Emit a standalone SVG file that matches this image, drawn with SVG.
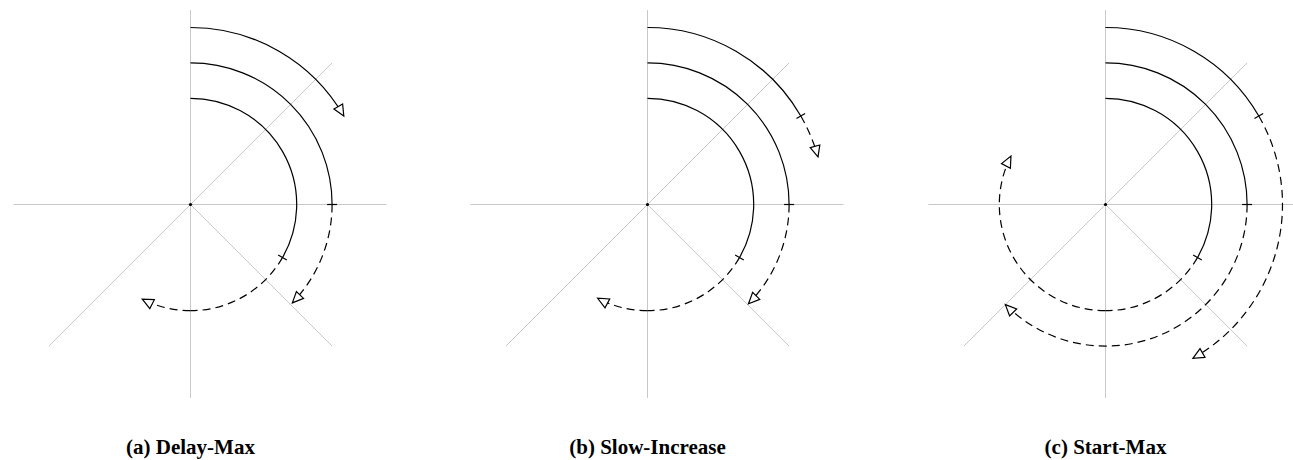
<svg xmlns="http://www.w3.org/2000/svg" width="1293" height="460" viewBox="0 0 1293 460">
  <style>
    .axis { stroke: #c8c8c8; stroke-width: 1; fill: none; }
    .arc { stroke: #000; stroke-width: 1.2; fill: none; }
    .dash { stroke-dasharray: 8 5; }
    .tick { stroke: #000; stroke-width: 1.2; }
    .cap { font-family: "Liberation Serif", "DejaVu Serif", serif; font-weight: bold; font-size: 21px; fill: #000; text-anchor: middle; }
  </style>
  <defs>
    <marker id="open" markerUnits="userSpaceOnUse" markerWidth="14" markerHeight="12" refX="0" refY="0" orient="auto" overflow="visible">
      <path d="M-11,-5 L0,0 L-11,5 Z" fill="#fff" stroke="#000" stroke-width="1.2" stroke-linejoin="miter"/>
    </marker>
    <g id="axes">
      <line class="axis" x1="0" y1="-194.5" x2="0" y2="193.5"/>
      <line class="axis" x1="-177" y1="0" x2="196" y2="0"/>
      <line class="axis" x1="-141.6" y1="141.6" x2="141.6" y2="-141.6"/>
      <line class="axis" x1="0" y1="0" x2="141.6" y2="141.6"/>
    </g>
  </defs>

  <g id="panel-a" transform="translate(190.5,204.5)">
    <use href="#axes"/>
    <g id="connectors-a">
      <path class="arc" d="M0,-106.2 A106.2,106.2 0 0 1 91.97,53.1"/>
      <path class="arc dash" d="M91.97,53.1 A106.2,106.2 0 0 1 0,106.2"/>
      <path class="arc dash" d="M0,106.2 A106.2,106.2 0 0 1 -48.21,94.62" marker-end="url(#open)"/>
      <line class="tick" x1="87.64" y1="50.6" x2="96.3" y2="55.6"/>
      <path class="arc" d="M0,-141.6 A141.6,141.6 0 0 1 141.6,0"/>
      <path class="arc dash" d="M141.6,0 A141.6,141.6 0 0 1 101.86,98.37" marker-end="url(#open)"/>
      <line class="tick" x1="136.6" y1="0" x2="146.6" y2="0"/>
      <path class="arc" d="M0,-177 A177,177 0 0 1 153.29,-88.5" marker-end="url(#open)"/>
    </g>
    <circle cx="0" cy="0" r="1.6" fill="#000"/>
    <text class="cap" x="0" y="249.5">(a) Delay-Max</text>
  </g>

  <g id="panel-b" transform="translate(647.5,204.5)">
    <use href="#axes"/>
    <g id="connectors-b">
      <path class="arc" d="M0,-106.2 A106.2,106.2 0 0 1 91.97,53.1"/>
      <path class="arc dash" d="M91.97,53.1 A106.2,106.2 0 0 1 0,106.2"/>
      <path class="arc dash" d="M0,106.2 A106.2,106.2 0 0 1 -49.86,93.77" marker-end="url(#open)"/>
      <line class="tick" x1="87.64" y1="50.6" x2="96.3" y2="55.6"/>
      <path class="arc" d="M0,-141.6 A141.6,141.6 0 0 1 141.6,0"/>
      <path class="arc dash" d="M141.6,0 A141.6,141.6 0 0 1 101,99.25" marker-end="url(#open)"/>
      <line class="tick" x1="136.6" y1="0" x2="146.6" y2="0"/>
      <path class="arc" d="M0,-177 A177,177 0 0 1 153.29,-88.5"/>
      <line class="tick" x1="148.96" y1="-86" x2="157.62" y2="-91"/>
      <path class="arc dash" d="M153.29,-88.5 A177,177 0 0 1 170.49,-47.6" marker-end="url(#open)"/>
    </g>
    <circle cx="0" cy="0" r="1.6" fill="#000"/>
    <text class="cap" x="0" y="249.5">(b) Slow-Increase</text>
  </g>

  <g id="panel-c" transform="translate(1105.5,204.5)">
    <use href="#axes"/>
    <g id="connectors-c">
      <path class="arc" d="M0,-106.2 A106.2,106.2 0 0 1 91.97,53.1"/>
      <path class="arc dash" d="M91.97,53.1 A106.2,106.2 0 0 1 0,106.2"/>
      <path class="arc dash" d="M0,106.2 A106.2,106.2 0 0 1 -94.54,-48.37" marker-end="url(#open)"/>
      <line class="tick" x1="87.64" y1="50.6" x2="96.3" y2="55.6"/>
      <path class="arc" d="M0,-141.6 A141.6,141.6 0 0 1 141.6,0"/>
      <path class="arc dash" d="M141.6,0 A141.6,141.6 0 0 1 -100.13,100.13" marker-end="url(#open)"/>
      <line class="tick" x1="136.6" y1="0" x2="146.6" y2="0"/>
      <path class="arc" d="M0,-177 A177,177 0 0 1 153.29,-88.5"/>
      <line class="tick" x1="148.96" y1="-86" x2="157.62" y2="-91"/>
      <path class="arc dash" d="M153.29,-88.5 A177,177 0 0 1 87.42,153.9" marker-end="url(#open)"/>
    </g>
    <circle cx="0" cy="0" r="1.6" fill="#000"/>
    <text class="cap" x="0" y="249.5">(c) Start-Max</text>
  </g>
</svg>
